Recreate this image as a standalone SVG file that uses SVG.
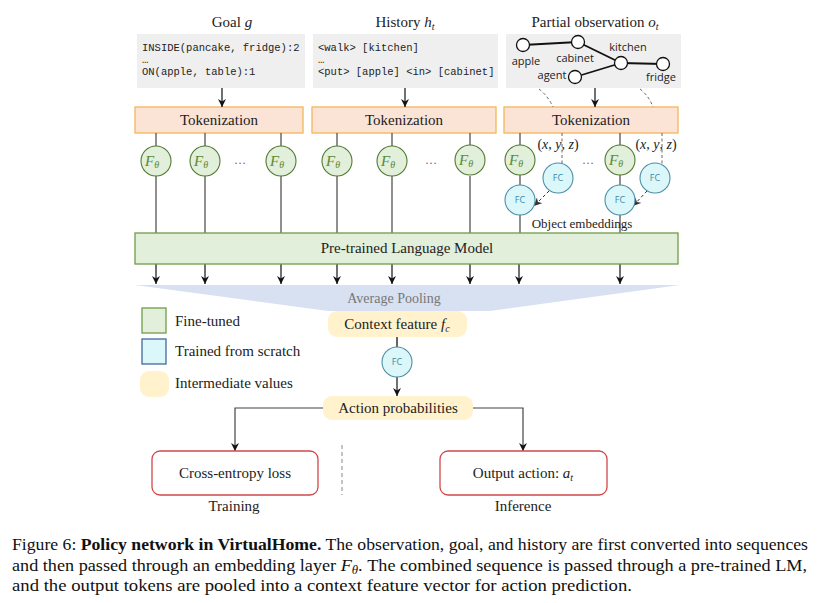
<svg xmlns="http://www.w3.org/2000/svg" width="819" height="603" viewBox="0 0 819 603">
<style>
.serif{font-family:"Liberation Serif","Times New Roman",serif;fill:#222}
.mono{font-family:"Liberation Mono","Courier New",monospace;font-size:10.5px;fill:#222}
.sans{font-family:"Open Sans","DejaVu Sans",sans-serif;font-size:11px;fill:#222}
.grey{fill:#efefef}
.tok{fill:#fbe4d6;stroke:#f5b55a;stroke-width:1.3}
.lm{fill:#e2efda;stroke:#6f9c45;stroke-width:1.3}
.fth{fill:#e2efda;stroke:#4f7a32;stroke-width:1.1}
.fthT{font-family:"Liberation Serif","Times New Roman",serif;font-style:italic;font-size:15px;fill:#5a8a36}
.fc{fill:#dbf7fa;stroke:#4d8ea8;stroke-width:1.1}
.fcT{font-family:"Open Sans","DejaVu Sans",sans-serif;font-size:9px;fill:#3e8aa6}
.inter{fill:#fff2cc}
.out{fill:#fff;stroke:#d14848;stroke-width:1.3}
.ln{stroke:#555;stroke-width:1.3;fill:none}
.arr{stroke:#111;stroke-width:1.2;fill:none;marker-end:url(#ah)}
.dash{stroke:#666;stroke-width:1;fill:none;stroke-dasharray:3,2.5}
.gnode{fill:#fff;stroke:#111;stroke-width:1.3}
.gedge{stroke:#111;stroke-width:1.8}
</style>
<defs>
<marker id="ah" viewBox="0 0 10 10" refX="10" refY="5" markerWidth="8" markerHeight="8" orient="auto" markerUnits="userSpaceOnUse">
<path d="M0,0 L10,5 L0,10 L3,5 z" fill="#111"/>
</marker>
<marker id="ahd" viewBox="0 0 10 10" refX="10" refY="5" markerWidth="8" markerHeight="8" orient="auto" markerUnits="userSpaceOnUse">
<path d="M0,0 L10,5 L0,10 L3,5 z" fill="#333"/>
</marker>
</defs>
<rect width="819" height="603" fill="#fff"/>

<!-- pooling -->
<g id="pooling">
<polygon points="135,285 680,285 490,311 328,311" fill="#d7e1f1"/>
<text class="serif" x="394" y="303" font-size="14" text-anchor="middle" style="fill:#777">Average Pooling</text>
</g>

<!-- input labels -->
<g id="goal">
<text class="serif" x="232" y="27" font-size="15" text-anchor="middle">Goal <tspan font-style="italic">g</tspan></text>
<rect class="grey" x="137" y="34" width="168" height="54"/>
<text class="mono" x="142" y="51">INSIDE(pancake, fridge):2</text>
<text class="mono" x="142" y="63">…</text>
<text class="mono" x="142" y="75">ON(apple, table):1</text>
</g>
<g id="history">
<text class="serif" x="405" y="27" font-size="15" text-anchor="middle">History <tspan font-style="italic">h</tspan><tspan font-style="italic" font-size="10" dy="3">t</tspan></text>
<rect class="grey" x="313" y="34" width="185" height="54"/>
<text class="mono" x="318" y="51">&lt;walk&gt; [kitchen]</text>
<text class="mono" x="318" y="63">…</text>
<text class="mono" x="318" y="75">&lt;put&gt; [apple] &lt;in&gt; [cabinet]</text>
</g>
<g id="observation">
<text class="serif" x="595" y="27" font-size="15" text-anchor="middle">Partial observation <tspan font-style="italic">o</tspan><tspan font-style="italic" font-size="10" dy="3">t</tspan></text>
<rect class="grey" x="506" y="34" width="175" height="54"/>
<line class="gedge" x1="523" y1="45" x2="578" y2="42"/>
<line class="gedge" x1="578" y1="42" x2="621" y2="63"/>
<line class="gedge" x1="575" y1="77" x2="621" y2="63"/>
<line class="gedge" x1="621" y1="63" x2="663" y2="64"/>
<circle class="gnode" cx="523" cy="45" r="6.5"/>
<circle class="gnode" cx="578" cy="42" r="6.5"/>
<circle class="gnode" cx="621" cy="63" r="6.5"/>
<circle class="gnode" cx="663" cy="64" r="6.5"/>
<circle class="gnode" cx="575" cy="77" r="6.5"/>
<text class="sans" x="526" y="65" text-anchor="middle">apple</text>
<text class="sans" x="575" y="62" text-anchor="middle">cabinet</text>
<text class="sans" x="628" y="51" text-anchor="middle">kitchen</text>
<text class="sans" x="552" y="79" text-anchor="middle">agent</text>
<text class="sans" x="661" y="81" text-anchor="middle">fridge</text>
</g>

<!-- tokenization -->
<g id="tok1"><rect class="tok" x="135" y="107" width="168" height="26"/><text class="serif" x="219" y="125" font-size="15" text-anchor="middle">Tokenization</text></g>
<g id="tok2"><rect class="tok" x="312" y="107" width="184" height="26"/><text class="serif" x="404" y="125" font-size="15" text-anchor="middle">Tokenization</text></g>
<g id="tok3"><rect class="tok" x="504" y="107" width="174" height="26"/><text class="serif" x="591" y="125" font-size="15" text-anchor="middle">Tokenization</text></g>

<!-- connectors -->
<g id="connectors">
<path class="arr" d="M222,88 V107"/>
<path class="arr" d="M405,88 V107"/>
<path class="arr" d="M595,88 V107"/>
<path class="dash" d="M539,89 Q548,96 553,107"/>
<path class="dash" d="M640,89 Q649,96 653,107"/>
<path class="ln" d="M156,133 V146 M156,176 V233"/>
<path class="ln" d="M205,133 V146 M205,176 V233"/>
<path class="ln" d="M281,133 V146 M281,176 V233"/>
<path class="ln" d="M337,133 V146 M337,176 V233"/>
<path class="ln" d="M392,133 V146 M392,176 V233"/>
<path class="ln" d="M470,133 V146 M470,176 V233"/>
<path class="ln" d="M520,133 V146 M520,175 V185 M520,215 V233"/>
<path class="ln" d="M620,133 V146 M620,175 V185 M620,215 V233"/>
<path class="dash" d="M562,133 V163.5"/>
<path class="dash" d="M662,133 V164"/>
<path class="dash" d="M549,191 L534,206" style="stroke:#333;marker-end:url(#ahd)"/>
<path class="dash" d="M647,191 L633,206" style="stroke:#333;marker-end:url(#ahd)"/>
<path class="arr" d="M156,264 V284"/>
<path class="arr" d="M205,264 V284"/>
<path class="arr" d="M281,264 V284"/>
<path class="arr" d="M337,264 V284"/>
<path class="arr" d="M392,264 V284"/>
<path class="arr" d="M470,264 V284"/>
<path class="arr" d="M519,264 V284"/>
<path class="arr" d="M620,264 V284"/>
<path class="ln" d="M397,337 V347" style="stroke:#111"/>
<path class="arr" d="M397,377 V396"/>
<path class="arr" d="M323,408 H235 V451" style="stroke:#444"/>
<path class="arr" d="M473,408 H523 V451" style="stroke:#444"/>
<path class="dash" d="M342,445 V495" style="stroke:#888;stroke-dasharray:4,3"/>
</g>

<!-- F theta -->
<g id="ftheta">
<g id="f1"><circle class="fth" cx="156" cy="161" r="15"/><text class="fthT" x="152" y="166" text-anchor="middle">F<tspan font-size="10" dy="2">θ</tspan></text></g>
<g id="f2"><circle class="fth" cx="205" cy="161" r="15"/><text class="fthT" x="201" y="166" text-anchor="middle">F<tspan font-size="10" dy="2">θ</tspan></text></g>
<g id="f3"><circle class="fth" cx="281" cy="161" r="15"/><text class="fthT" x="277" y="166" text-anchor="middle">F<tspan font-size="10" dy="2">θ</tspan></text></g>
<g id="f4"><circle class="fth" cx="337" cy="161" r="15"/><text class="fthT" x="333" y="166" text-anchor="middle">F<tspan font-size="10" dy="2">θ</tspan></text></g>
<g id="f5"><circle class="fth" cx="392" cy="161" r="15"/><text class="fthT" x="388" y="166" text-anchor="middle">F<tspan font-size="10" dy="2">θ</tspan></text></g>
<g id="f6"><circle class="fth" cx="470" cy="160" r="15"/><text class="fthT" x="466" y="165" text-anchor="middle">F<tspan font-size="10" dy="2">θ</tspan></text></g>
<g id="f7"><circle class="fth" cx="520" cy="160" r="15"/><text class="fthT" x="516" y="165" text-anchor="middle">F<tspan font-size="10" dy="2">θ</tspan></text></g>
<g id="f8"><circle class="fth" cx="620" cy="160" r="15"/><text class="fthT" x="616" y="165" text-anchor="middle">F<tspan font-size="10" dy="2">θ</tspan></text></g>
<text class="serif" x="240" y="164" font-size="12" text-anchor="middle" style="fill:#666">…</text>
<text class="serif" x="431" y="164" font-size="12" text-anchor="middle" style="fill:#666">…</text>
<text class="serif" x="588" y="164" font-size="12" text-anchor="middle" style="fill:#666">…</text>
</g>

<!-- FC nodes -->
<g id="fc-obs">
<text class="serif" x="558" y="149" font-size="14" text-anchor="middle">(<tspan font-style="italic">x</tspan>, <tspan font-style="italic">y</tspan>, <tspan font-style="italic">z</tspan>)</text>
<text class="serif" x="656" y="149" font-size="14" text-anchor="middle">(<tspan font-style="italic">x</tspan>, <tspan font-style="italic">y</tspan>, <tspan font-style="italic">z</tspan>)</text>
<g id="fc1"><circle class="fc" cx="558" cy="178" r="15"/><text class="fcT" x="558" y="181" text-anchor="middle">FC</text></g>
<g id="fc2"><circle class="fc" cx="655" cy="178" r="15"/><text class="fcT" x="655" y="181" text-anchor="middle">FC</text></g>
<g id="fc3"><circle class="fc" cx="520" cy="200" r="15"/><text class="fcT" x="520" y="203" text-anchor="middle">FC</text></g>
<g id="fc4"><circle class="fc" cx="620" cy="200" r="15"/><text class="fcT" x="620" y="203" text-anchor="middle">FC</text></g>
<text class="serif" x="582" y="228" font-size="13" text-anchor="middle">Object embeddings</text>
</g>

<!-- LM -->
<g id="lm"><rect class="lm" x="135" y="233" width="543" height="31"/><text class="serif" x="407" y="253" font-size="15" text-anchor="middle">Pre-trained Language Model</text></g>

<!-- context -->
<g id="context"><rect class="inter" x="328" y="311" width="139" height="26" rx="9"/><text class="serif" x="397" y="329" font-size="15" text-anchor="middle">Context feature <tspan font-style="italic">f</tspan><tspan font-style="italic" font-size="10" dy="3">c</tspan></text></g>
<g id="fc5"><circle class="fc" cx="397" cy="362" r="15"/><text class="fcT" x="397" y="365" text-anchor="middle">FC</text></g>
<g id="action"><rect class="inter" x="323" y="396" width="150" height="24" rx="9"/><text class="serif" x="398" y="413" font-size="15" text-anchor="middle">Action probabilities</text></g>

<g id="loss"><rect class="out" x="152" y="451" width="166" height="44" rx="8"/><text class="serif" x="235" y="478" font-size="15" text-anchor="middle">Cross-entropy loss</text>
<text class="serif" x="234" y="511" font-size="15" text-anchor="middle">Training</text></g>
<g id="output"><rect class="out" x="440" y="451" width="167" height="44" rx="8"/><text class="serif" x="523" y="478" font-size="15" text-anchor="middle">Output action:  <tspan font-style="italic">a</tspan><tspan font-style="italic" font-size="10" dy="3">t</tspan></text>
<text class="serif" x="523" y="511" font-size="15" text-anchor="middle">Inference</text></g>

<!-- legend -->
<g id="legend">
<rect x="142" y="308" width="24" height="25" fill="#e2efda" stroke="#6f9c45" stroke-width="1.3"/>
<text class="serif" x="175" y="326" font-size="15">Fine-tuned</text>
<rect x="142" y="339" width="24" height="25" fill="#dbf7fa" stroke="#3e6a9a" stroke-width="1.3"/>
<text class="serif" x="175" y="356" font-size="15">Trained from scratch</text>
<rect x="140" y="371" width="29" height="26" rx="9" fill="#fff2cc"/>
<text class="serif" x="175" y="388" font-size="15">Intermediate values</text>
</g>

<!-- caption -->
<g id="caption">
<text class="serif" x="12" y="550" font-size="17" textLength="796" lengthAdjust="spacingAndGlyphs" style="fill:#111">Figure 6: <tspan font-weight="bold">Policy network in VirtualHome.</tspan> The observation, goal, and history are first converted into sequences</text>
<text class="serif" x="12" y="571" font-size="17" textLength="795" lengthAdjust="spacingAndGlyphs" style="fill:#111">and then passed through an embedding layer <tspan font-style="italic">F</tspan><tspan font-style="italic" font-size="12" dy="3">θ</tspan><tspan dy="-3">. The combined sequence is passed through a pre-trained LM,</tspan></text>
<text class="serif" x="12" y="591" font-size="17" textLength="620" lengthAdjust="spacingAndGlyphs" style="fill:#111">and the output tokens are pooled into a context feature vector for action prediction.</text>
</g>
</svg>
